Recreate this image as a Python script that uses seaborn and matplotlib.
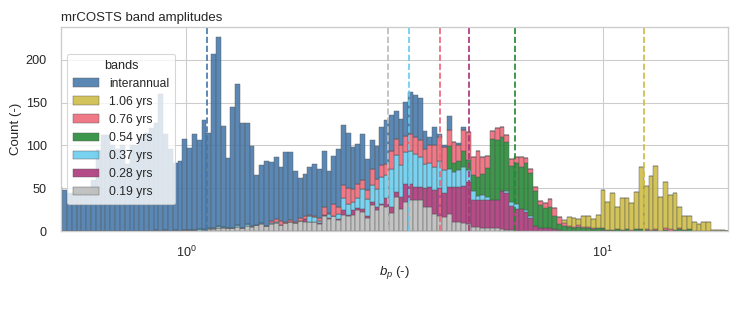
import numpy as np
import pandas as pd
import matplotlib
matplotlib.use("Agg")
import matplotlib.pyplot as plt
import seaborn as sns

# log10 bin layout of the histogram
LOG_FIRST_EDGE = -0.3086
LOG_BIN_WIDTH = 0.011533
N_BINS = 140

bands = ["interannual", "1.06 yrs", "0.76 yrs", "0.54 yrs", "0.37 yrs", "0.28 yrs", "0.19 yrs"]
band_colors = ["#4477AA", "#CCBB44", "#EE6677", "#228833", "#66CCEE", "#AA3377", "#BBBBBB"]
# dashed reference line of each band (b_p units)
band_lines = [1.12, 12.56, 4.06, 6.15, 3.42, 4.78, 3.06]

# counts per bin; each list starts at the bin index in band_first_bin
interannual = [52, 48, 44, 44, 44, 44, 45, 60, 95, 112,
               112, 100, 96, 100, 78, 100, 100, 110, 115, 120,
               125, 160, 112, 96, 79, 82, 106, 96, 112, 104,
               128, 110, 203, 221, 118, 81, 142, 165, 122, 118,
               93, 58, 68, 76, 69, 72, 63, 81, 79, 59,
               47, 49, 56, 60, 57, 66, 49, 56, 68, 70,
               65, 49, 47, 53, 36, 34, 38, 44, 52, 41,
               32, 31, 40, 49, 49, 49, 21, 10, 21, 3,
               3, 16, 0, 2, 3]
yrs_1_06 = [4, 10, 10, 7, 12, 12, 11, 15, 45, 33,
            43, 26, 37, 37, 32, 44, 73, 51, 63, 74,
            40, 54, 40, 43, 25, 16, 15, 11, 8, 10,
            11, 1, 1, 1]
yrs_0_76 = [3, 4, 5, 2, 3, 2, 3, 4, 2, 2,
            3, 9, 1, 14, 8, 15, 19, 15, 17, 11,
            11, 18, 12, 14, 13, 21, 19, 23, 19, 19,
            20, 20, 18, 20, 25, 28, 27, 19, 25, 19,
            24, 33, 22, 30, 19, 14, 9, 14, 11, 8,
            8, 7, 11, 5, 4, 5, 5, 6, 9, 10,
            8, 3, 1, 1, 2, 1, 2, 1, 1, 0,
            0, 0, 0, 0, 0, 1, 0, 0, 1, 1,
            1, 0, 2, 2, 0, 1]
yrs_0_54 = [27, 10, 11, 19, 12, 18, 22, 25, 34, 72,
            70, 63, 57, 42, 49, 49, 55, 51, 41, 26,
            24, 25, 15, 7, 6, 5, 4, 5, 4, 3,
            2, 3, 2, 1, 1, 2, 1, 2, 0, 2,
            2, 1, 0, 1, 0, 1, 0, 1, 2, 1,
            2]
yrs_0_37 = [2, 1, 2, 2, 3, 2, 0, 0, 2, 0,
            2, 1, 0, 1, 0, 1, 1, 0, 0, 0,
            0, 0, 0, 7, 5, 3, 0, 5, 0, 6,
            15, 12, 10, 11, 23, 20, 20, 21, 31, 27,
            45, 43, 37, 37, 39, 38, 34, 28, 28, 27,
            32, 27, 21, 17, 19, 22, 14, 11, 5, 6,
            4, 0, 0, 0, 3, 5, 5, 0, 3, 2]
yrs_0_28 = [3, 0, 0, 1, 1, 1, 1, 1, 5, 2,
            5, 3, 4, 2, 4, 4, 2, 10, 7, 6,
            14, 21, 19, 16, 16, 22, 24, 28, 32, 28,
            31, 41, 42, 44, 49, 31, 31, 33, 33, 33,
            33, 45, 43, 28, 26, 26, 22, 15, 6, 4,
            3, 3, 2, 1, 0, 0, 0, 0, 0, 0,
            0, 0, 1]
yrs_0_19 = [1, 0, 1, 0, 1, 0, 1, 1, 1, 0,
            1, 2, 2, 3, 3, 4, 3, 5, 4, 6,
            5, 7, 8, 6, 8, 9, 7, 9, 10, 9,
            12, 11, 10, 11, 8, 18, 14, 17, 13, 19,
            17, 19, 24, 22, 15, 30, 24, 30, 28, 21,
            40, 26, 34, 36, 36, 36, 28, 28, 20, 18,
            16, 20, 11, 10, 9, 8, 5, 5, 3, 3,
            3, 3, 2, 1, 1]

band_counts = {
    "interannual": interannual,
    "1.06 yrs": yrs_1_06,
    "0.76 yrs": yrs_0_76,
    "0.54 yrs": yrs_0_54,
    "0.37 yrs": yrs_0_37,
    "0.28 yrs": yrs_0_28,
    "0.19 yrs": yrs_0_19,
}
band_first_bin = {"interannual": 0, "1.06 yrs": 105, "0.76 yrs": 44, "0.54 yrs": 81,
                  "0.37 yrs": 29, "0.28 yrs": 51, "0.19 yrs": 20}

edges = LOG_FIRST_EDGE + LOG_BIN_WIDTH * np.arange(N_BINS + 1)
centres = 10 ** ((edges[:-1] + edges[1:]) / 2)

rows = []
for band in bands:
    start = band_first_bin[band]
    for k, c in enumerate(band_counts[band]):
        if c > 0:
            rows.append((centres[start + k], c, band))
df = pd.DataFrame(rows, columns=["bp", "count", "bands"])

sns.set_theme(style="whitegrid")
plt.rcParams["font.family"] = ["Liberation Sans", "DejaVu Sans"]
plt.rcParams["mathtext.fontset"] = "custom"
plt.rcParams["mathtext.it"] = "Liberation Sans:italic"
plt.rcParams["mathtext.rm"] = "Liberation Sans"

DPI = 76
fig, ax = plt.subplots(figsize=(736 / DPI, 328 / DPI), dpi=DPI)
fig.subplots_adjust(left=0.0823, right=0.9894, top=0.9177, bottom=0.2957)

sns.histplot(data=df, x="bp", weights="count", hue="bands", hue_order=bands,
             palette=band_colors, bins=list(edges), log_scale=True, multiple="stack",
             alpha=0.88, edgecolor="0.35", linewidth=0.4, ax=ax)

for v, c in zip(band_lines, band_colors):
    ax.axvline(v, color=c, ls="--", lw=1.6)

ax.set_xlim(0.5, 20)
ax.tick_params(labelsize=12, pad=7)
ax.set_title("mrCOSTS band amplitudes", loc="left", fontsize=12.5)
ax.set_xlabel("$b_p$ (-)", fontsize=12.5)
ax.set_ylabel("Count (-)", fontsize=12.5)
sns.move_legend(ax, "center left", fontsize=11.5, title_fontsize=12,
                handlelength=2.2, borderpad=0.5)

fig.savefig("out.png", dpi=DPI)
